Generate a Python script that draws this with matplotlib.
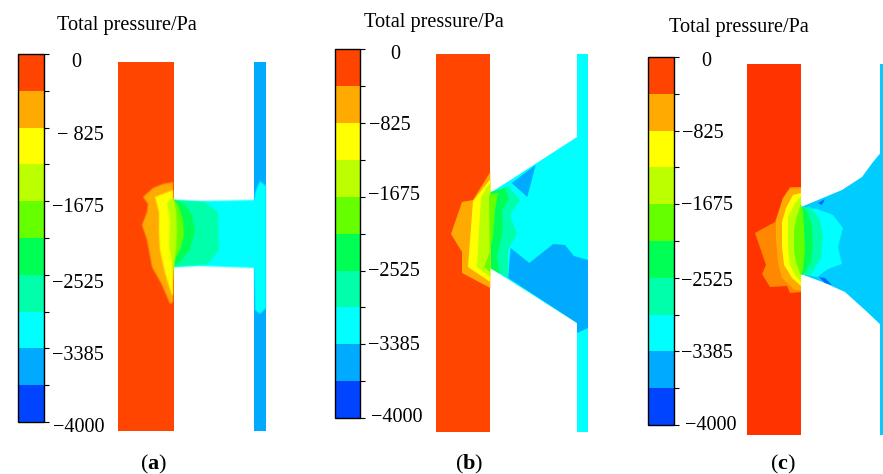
import matplotlib
matplotlib.use("Agg")
import matplotlib.pyplot as plt
import numpy as np
from matplotlib.colorbar import ColorbarBase
from matplotlib.colors import BoundaryNorm, ListedColormap

plt.rcParams["font.family"] = ["Liberation Serif", "DejaVu Serif"]
plt.rcParams["mathtext.fontset"] = "custom"
plt.rcParams["mathtext.bf"] = "Liberation Serif:bold"
plt.rcParams["mathtext.rm"] = "Liberation Serif"

W, H = 883, 474

# pressure levels and band colours, low to high
levels = [-4000, -3692, -3385, -2955, -2525, -2100, -1675, -1250, -825, -412, 0]
band_colors = ["#0044ff", "#00aaff", "#00ffff", "#00ffaa", "#00ff55",
               "#66ff00", "#bbff00", "#ffff00", "#ffaa00", "#ff4400"]
labels_a = ["0", "\u2212 825", "\u22121675", "\u22122525", "\u22123385", "\u22124000"]
labels_bc = ["0", "\u2212825", "\u22121675", "\u22122525", "\u22123385", "\u22124000"]
title_text = "Total pressure/Pa"

# contour outlines, in picture pixels, drawn in order
# panel a
a_red = [(118, 62), (173.5, 62), (173.5, 431), (118, 431)]
a_strip = [(254, 62), (266, 62), (266, 431), (254, 431)]
a_cyan = [(174, 200), (200, 201), (254, 200), (256, 190), (260, 181), (266, 186),
          (266, 308), (260, 314), (255, 310), (254, 268), (200, 266), (174, 267)]
a_teal = [(174, 200), (205, 202), (218, 212), (219, 250), (208, 264), (174, 267)]
a_spring = [(174, 200), (184, 203), (192, 215), (195, 230), (190, 250), (180, 262), (174, 266)]
a_green = [(172, 198), (178, 205), (183, 220), (184, 235), (180, 250), (172, 264)]
a_orange = [(173, 182), (163, 184), (153, 188), (143, 197), (148, 204), (147, 212),
            (142, 225), (147, 240), (152, 267), (162, 285), (170, 304), (173, 302)]
a_yellow = [(173, 190), (155, 197), (159, 212), (159, 233), (160, 250), (165, 273),
            (172, 295), (173, 295)]
a_lime = [(173, 197), (167, 203), (170, 220), (169, 247), (172, 263), (173, 282),
          (174, 267), (176, 250), (177, 230), (176, 210), (174, 200)]

# panel b
b_red = [(435.7, 54), (490.3, 54), (490.3, 432), (435.7, 432)]
b_strip = [(577, 54), (588, 54), (588, 432), (577, 432)]
b_cyan = [(490.3, 193), (577, 137), (588, 137), (588, 328), (577, 323), (490.3, 268)]
b_blue_up = [(511.7, 183), (535.7, 165), (527.3, 197)]
b_blue_low = [(510.7, 248), (529.3, 263), (553.3, 244), (565, 245), (574, 256), (588, 260),
              (588, 328), (577, 333), (577, 323), (508.3, 278), (509.3, 263)]
b_teal = [(490, 193), (508, 186), (520, 200), (510, 215), (517, 234), (508, 250),
          (508, 278), (490, 267)]
b_spring = [(490, 192), (505, 188), (509, 199), (502, 210), (503, 230), (497, 257),
            (500, 274), (490, 268)]
b_green = [(489, 195), (498, 193), (495, 210), (493, 237), (488, 257), (484, 267), (490, 272)]
b_orange = [(490.3, 172), (473, 200), (462, 202), (451, 234), (462, 252), (462, 273), (490.3, 288)]
b_yellow = [(490.3, 179), (473, 201), (468, 267), (490.3, 282)]
b_lime = [(490.3, 183), (481, 197), (477, 267), (490.3, 277)]

# panel c
c_red = [(747.3, 64), (801, 64), (801, 435), (747.3, 435)]
c_strip = [(880.3, 64), (883, 64), (883, 435), (880.3, 435)]
c_blue = [(801, 207), (818, 200), (842, 190), (862, 177), (873, 162), (883, 150),
          (883, 327), (865, 310), (845, 292), (825, 283), (801, 274)]
c_dark_up = [(818, 203), (825, 199), (822, 205)]
c_dark_low = [(819, 277), (825, 278), (832, 285), (825, 283)]
c_cyan = [(801, 207), (817, 209), (833, 215), (843, 228), (838, 247), (842, 264),
          (828, 269), (817, 277), (801, 274)]
c_teal = [(801, 208), (810, 207), (819, 218), (823, 235), (821, 258), (810, 276), (801, 274)]
c_spring = [(801, 207), (806, 209), (812, 225), (813, 245), (811, 262), (803, 275), (801, 274)]
c_dark_orange = [(801, 187), (790, 187), (783, 198), (775, 222), (755, 233), (766, 265),
                 (762, 274), (770, 287), (787, 286), (790, 293), (801, 292)]
c_orange = [(801, 188), (790, 189), (783, 198), (776, 221), (776, 240), (778, 263),
            (782, 278), (788, 284), (795, 290), (801, 290)]
c_yellow = [(801, 193), (793, 195), (786, 208), (782, 222), (782, 247), (784, 265),
            (792, 278), (801, 286)]
c_lime = [(801, 197), (795, 203), (788, 217), (788, 247), (790, 265), (795, 275), (801, 282)]
c_green = [(801, 204), (797, 216), (794, 230), (794, 250), (796, 262), (801, 276),
           (803, 270), (805, 250), (804, 228), (803, 212)]

panel_a = [(a_red, "#ff4500"), (a_strip, "#00aaff"), (a_cyan, "#00ffff"), (a_teal, "#00ffaa"),
           (a_spring, "#00ff55"), (a_green, "#66ff00"), (a_orange, "#ffaa00"),
           (a_yellow, "#ffff00"), (a_lime, "#bbff00")]
panel_b = [(b_red, "#ff4500"), (b_strip, "#00ffff"), (b_cyan, "#00ffff"), (b_blue_up, "#00aaff"),
           (b_blue_low, "#00aaff"), (b_teal, "#00ffaa"), (b_spring, "#00ff55"),
           (b_orange, "#ffaa00"), (b_yellow, "#ffff00"), (b_lime, "#bbff00"), (b_green, "#66ff00")]
panel_c = [(c_red, "#ff3300"), (c_strip, "#00ccff"), (c_blue, "#00ccff"), (c_dark_up, "#0066ff"),
           (c_dark_low, "#0066ff"), (c_cyan, "#00ffff"), (c_teal, "#00ffaa"), (c_spring, "#00ff55"),
           (c_dark_orange, "#ff8800"), (c_orange, "#ffaa00"), (c_yellow, "#ffff00"),
           (c_lime, "#bbff00"), (c_green, "#66ff00")]


def soften(image, dpi):
    # panel a is a blurry screenshot, so soften the edges of its inner shapes
    pad = 3
    image = np.pad(image, ((pad, pad), (pad, pad), (0, 0)))
    kernel = np.array([0.2, 0.6, 0.2])
    alpha = image[:, :, 3]
    alpha = np.apply_along_axis(np.convolve, 0, alpha, kernel, mode="same")
    alpha = np.apply_along_axis(np.convolve, 1, alpha, kernel, mode="same")
    solid = image[:, :, 3] > 0.5
    out = np.zeros_like(image)
    out[:, :, :3] = image[solid][:, :3].mean(axis=0)
    out[:, :, 3] = alpha
    return out, -pad, -pad


def draw_colorbar(fig, left, right, top, bottom):
    cax = fig.add_axes([left / W, 1 - bottom / H, (right - left) / W, (bottom - top) / H])
    norm = BoundaryNorm(levels, len(band_colors))
    cb = ColorbarBase(cax, cmap=ListedColormap(band_colors), norm=norm, spacing="uniform",
                      ticks=levels, orientation="vertical", drawedges=False)
    cb.ax.minorticks_off()
    cb.ax.tick_params(length=3.6, width=0.8, labelright=False)
    cb.outline.set_linewidth(1.0)


def draw_labels(ax, labels, xs, ys, title_xy, letter, letter_x):
    for lab, x, y in zip(labels, xs, ys):
        ax.text(x, y, lab, ha="right", va="center", fontsize=14.6)
    ax.text(title_xy[0], title_xy[1], title_text, ha="left", va="center", fontsize=14.6)
    ax.text(letter_x, 464, "($\\mathbf{%s}$)" % letter, ha="center", va="center", fontsize=16)


def main():
    fig = plt.figure(figsize=(W / 100, H / 100), dpi=100)
    ax = fig.add_axes([0, 0, 1, 1])
    ax.set_xlim(0, W)
    ax.set_ylim(H, 0)
    ax.axis("off")

    for panel in (panel_a, panel_b, panel_c):
        for outline, color in panel:
            xs, ys = zip(*outline)
            patches = ax.fill(xs, ys, color=color, linewidth=0)
            if panel is panel_a and outline is not a_red and outline is not a_strip:
                patches[0].set_agg_filter(soften)

    draw_colorbar(fig, 17.5, 44, 54, 422)
    draw_colorbar(fig, 334.5, 360.3, 49.3, 418)
    draw_colorbar(fig, 647.7, 674.3, 57, 425)

    draw_labels(ax, labels_a, [81, 104, 104, 104, 104, 104], [62, 136, 207, 283, 355, 427],
                (57, 25), "a", 154)
    draw_labels(ax, labels_bc, [400, 411, 420, 420, 420, 423], [54, 125, 196, 272, 345, 418],
                (364, 22), "b", 469)
    draw_labels(ax, labels_bc, [711, 724, 733, 733, 733, 737], [61, 134, 206, 281, 354, 426],
                (669, 27), "c", 783)

    fig.savefig("out.png", dpi=100)


if __name__ == "__main__":
    main()
